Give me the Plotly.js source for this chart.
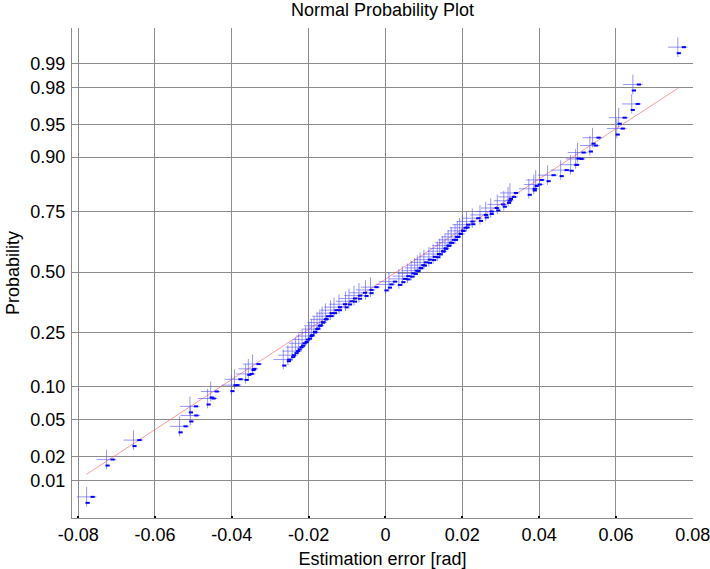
<!DOCTYPE html>
<html>
<head>
<meta charset="utf-8">
<script src="https://cdn.plot.ly/plotly-3.0.1.min.js"></script>
<style>
  html, body { margin: 0; padding: 0; background: #fff; }
  #normplot { width: 710px; height: 569px; }
</style>
</head>
<body>
<div id="normplot"></div>
<script>
PLOT = document.getElementById('normplot');

// sorted estimation errors [rad]
var errors = [-0.0778,-0.0726,-0.0656,-0.0536,-0.0508,-0.0509,-0.0463,-0.0455,-0.0401,-0.0393,
              -0.0364,-0.0357,-0.0346,-0.0266,-0.0254,-0.0243,-0.0234,-0.0226,-0.0217,-0.0208,
              -0.0199,-0.0193,-0.0186,-0.0178,-0.0171,-0.0165,-0.0156,-0.0143,-0.0134,-0.0121,
              -0.0104,-0.0095,-0.0082,-0.0069,-0.0052,-0.0039,0.0000,0.0009,0.0035,0.0044,
              0.0057,0.0067,0.0076,0.0083,0.0090,0.0100,0.0113,0.0124,0.0135,0.0141,
              0.0148,0.0155,0.0163,0.0171,0.0181,0.0187,0.0193,0.0200,0.0211,0.0226,
              0.0246,0.0261,0.0274,0.0291,0.0308,0.0319,0.0324,0.0373,0.0386,0.0391,
              0.0422,0.0456,0.0482,0.0495,0.0500,0.0532,0.0539,0.0602,0.0607,0.0641,
              0.0644,0.0761];

// probability of each point
var probs = [0.0061,0.0183,0.0305,0.0427,0.0549,0.0671,0.0793,0.0915,0.1037,0.1159,
             0.1280,0.1402,0.1524,0.1646,0.1768,0.1890,0.2012,0.2134,0.2256,0.2378,
             0.2500,0.2622,0.2744,0.2866,0.2988,0.3110,0.3232,0.3354,0.3476,0.3598,
             0.3720,0.3841,0.3963,0.4085,0.4207,0.4329,0.4451,0.4573,0.4695,0.4817,
             0.4939,0.5061,0.5183,0.5305,0.5427,0.5549,0.5671,0.5793,0.5915,0.6037,
             0.6159,0.6280,0.6402,0.6524,0.6646,0.6768,0.6890,0.7012,0.7134,0.7256,
             0.7378,0.7500,0.7622,0.7744,0.7866,0.7988,0.8110,0.8232,0.8354,0.8476,
             0.8598,0.8720,0.8841,0.8963,0.9085,0.9207,0.9329,0.9451,0.9573,0.9695,
             0.9817,0.9939];

// reference line (red)
var lineX = [-0.0778, 0.0761];
var lineP = [0.0121, 0.9797];

var probTicks = [0.01,0.02,0.05,0.10,0.25,0.50,0.75,0.90,0.95,0.98,0.99];
var probLabels = ['0.01','0.02','0.05','0.10','0.25','0.50','0.75','0.90','0.95','0.98','0.99'];
var xTicks = [-0.08,-0.06,-0.04,-0.02,0,0.02,0.04,0.06,0.08];
var xLabels = ['-0.08','-0.06','-0.04','-0.02','0','0.02','0.04','0.06','0.08'];

// inverse normal cdf (Acklam)
function norminv(p) {
    var a = [-3.969683028665376e+01, 2.209460984245205e+02, -2.759285104469687e+02, 1.383577518672690e+02, -3.066479806614716e+01, 2.506628277459239e+00];
    var b = [-5.447609879822406e+01, 1.615858368580409e+02, -1.556989798598866e+02, 6.680131188771972e+01, -1.328068155288572e+01];
    var c = [-7.784894002430293e-03, -3.223964580411365e-01, -2.400758277161838e+00, -2.549732539343734e+00, 4.374664141464968e+00, 2.938163982698783e+00];
    var d = [7.784695709041462e-03, 3.224671290700398e-01, 2.445134137142996e+00, 3.754408661907416e+00];
    var plow = 0.02425, q, r;
    if (p < plow) {
        q = Math.sqrt(-2 * Math.log(p));
        return (((((c[0]*q+c[1])*q+c[2])*q+c[3])*q+c[4])*q+c[5]) / ((((d[0]*q+d[1])*q+d[2])*q+d[3])*q+1);
    }
    if (p <= 1 - plow) {
        q = p - 0.5; r = q * q;
        return (((((a[0]*r+a[1])*r+a[2])*r+a[3])*r+a[4])*r+a[5])*q / (((((b[0]*r+b[1])*r+b[2])*r+b[3])*r+b[4])*r+1);
    }
    q = Math.sqrt(-2 * Math.log(1 - p));
    return -(((((c[0]*q+c[1])*q+c[2])*q+c[3])*q+c[4])*q+c[5]) / ((((d[0]*q+d[1])*q+d[2])*q+d[3])*q+1);
}

var xRange = [-0.0816, 0.08005];
var yRange = [-2.742, 2.720];
var W = 710, H = 569;
var M = {l: 72, r: 17, t: 28, b: 51};
var pxX = (xRange[1] - xRange[0]) / (W - M.l - M.r);
var pxY = (yRange[1] - yRange[0]) / (H - M.t - M.b);

var z = probs.map(norminv);

// the "+" markers plus the little dark dashes of the original render
var data = [
    {
        x: lineX, y: lineP.map(norminv),
        mode: 'lines', type: 'scatter',
        line: {color: 'rgba(255,90,90,0.6)', width: 1},
        hoverinfo: 'skip'
    },
    {
        x: errors, y: z,
        mode: 'markers', type: 'scatter',
        marker: {symbol: 'cross-thin-open', size: 14, color: 'rgba(80,80,255,0.6)',
                 line: {color: 'rgba(80,80,255,0.6)', width: 1}}
    },
    {
        x: errors.map(function (v) { return v + 6 * pxX; }), y: z,
        mode: 'markers', type: 'scatter',
        marker: {symbol: 'line-ew-open', size: 3, color: '#0000ff', line: {color: '#0000ff', width: 2}},
        hoverinfo: 'skip'
    },
    {
        x: errors.map(function (v) { return v + 1 * pxX; }), y: z.map(function (v) { return v - 6 * pxY; }),
        mode: 'markers', type: 'scatter',
        marker: {symbol: 'line-ew-open', size: 3, color: '#0000ff', line: {color: '#0000ff', width: 2}},
        hoverinfo: 'skip'
    }
];

var layout = {
    width: W, height: H,
    margin: M,
    showlegend: false,
    paper_bgcolor: '#fff', plot_bgcolor: '#fff',
    font: {family: '"Liberation Sans", Arial, sans-serif', size: 18, color: '#000'},
    title: {text: 'Normal Probability Plot', x: 0.5, xref: 'paper', y: 1 - 10 / H, yref: 'container', yanchor: 'middle',
            font: {size: 18}},
    xaxis: {
        range: xRange,
        tickvals: xTicks, ticktext: xLabels,
        ticklabeloverflow: 'allow',
        showgrid: true, gridcolor: '#8c8c8c', gridwidth: 1,
        zeroline: false,
        showline: true, linecolor: '#8c8c8c', linewidth: 1,
        ticks: 'inside', ticklen: 2, tickwidth: 2, tickcolor: '#000',
        tickfont: {size: 18},
        title: {text: 'Estimation error [rad]', font: {size: 18}, standoff: 10}
    },
    yaxis: {
        range: yRange,
        tickvals: probTicks.map(norminv), ticktext: probLabels,
        showgrid: true, gridcolor: '#8c8c8c', gridwidth: 1,
        zeroline: false,
        showline: true, linecolor: '#8c8c8c', linewidth: 1,
        ticks: '', ticklabelstandoff: 2,
        tickfont: {size: 18},
        title: {text: 'Probability', font: {size: 18}, standoff: 6}
    }
};

Plotly.newPlot(PLOT, data, layout, {displayModeBar: false, staticPlot: true});
</script>
</body>
</html>
